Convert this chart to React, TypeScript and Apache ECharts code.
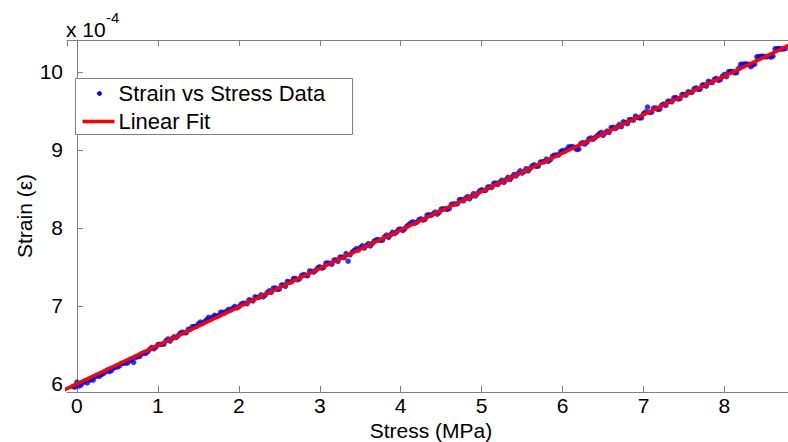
import React, { useEffect, useRef } from "react";
import * as echarts from "echarts";

// Stress (MPa), first pass of readings
const stress = [
  -0.05, 0.0, 0.05, 0.1, 0.15, 0.2, 0.25, 0.3, 0.35, 0.4, 0.45, 0.5, 0.55, 0.6, 0.65, 0.7, 0.75, 0.8, 0.85, 0.9,
  0.95, 1.0, 1.05, 1.1, 1.15, 1.2, 1.25, 1.3, 1.35, 1.4, 1.45, 1.5, 1.55, 1.6, 1.65, 1.7, 1.75, 1.8, 1.85, 1.9,
  1.95, 2.0, 2.05, 2.1, 2.15, 2.2, 2.25, 2.3, 2.35, 2.4, 2.45, 2.5, 2.55, 2.6, 2.65, 2.7, 2.75, 2.8, 2.85, 2.9,
  2.95, 3.0, 3.05, 3.1, 3.15, 3.2, 3.25, 3.3, 3.35, 3.4, 3.45, 3.5, 3.55, 3.6, 3.65, 3.7, 3.75, 3.8, 3.85, 3.9,
  3.95, 4.0, 4.05, 4.1, 4.15, 4.2, 4.25, 4.3, 4.35, 4.4, 4.45, 4.5, 4.55, 4.6, 4.65, 4.7, 4.75, 4.8, 4.85, 4.9,
  4.95, 5.0, 5.05, 5.1, 5.15, 5.2, 5.25, 5.3, 5.35, 5.4, 5.45, 5.5, 5.55, 5.6, 5.65, 5.7, 5.75, 5.8, 5.85, 5.9,
  5.95, 6.0, 6.05, 6.1, 6.15, 6.2, 6.25, 6.3, 6.35, 6.4, 6.45, 6.5, 6.55, 6.6, 6.65, 6.7, 6.75, 6.8, 6.85, 6.9,
  6.95, 7.0, 7.05, 7.1, 7.15, 7.2, 7.25, 7.3, 7.35, 7.4, 7.45, 7.5, 7.55, 7.6, 7.65, 7.7, 7.75, 7.8, 7.85, 7.9,
  7.95, 8.0, 8.05, 8.1, 8.15, 8.2, 8.25, 8.3, 8.35, 8.4, 8.45, 8.5, 8.55, 8.6, 8.65, 8.7, 8.75,
];

// Strain (x 1e-4), first pass
const strain = [
  5.965, 6.02, 5.985, 6.039, 6.044, 6.049, 6.103, 6.118, 6.153, 6.157, 6.202, 6.217, 6.261, 6.266, 6.301, 6.275, 6.35, 6.385, 6.389, 6.444,
  6.449, 6.504, 6.508, 6.553, 6.548, 6.602, 6.617, 6.662, 6.656, 6.701, 6.736, 6.77, 6.775, 6.82, 6.834, 6.879, 6.874, 6.918, 6.933, 6.948,
  6.992, 6.987, 7.032, 7.026, 7.071, 7.116, 7.11, 7.115, 7.17, 7.174, 7.229, 7.214, 7.268, 7.313, 7.308, 7.352, 7.347, 7.402, 7.386, 7.441,
  7.456, 7.501, 7.495, 7.55, 7.535, 7.589, 7.624, 7.619, 7.573, 7.688, 7.733, 7.747, 7.742, 7.797, 7.801, 7.846, 7.841, 7.885, 7.88, 7.945,
  7.949, 7.984, 7.989, 8.043, 8.078, 8.073, 8.117, 8.112, 8.167, 8.181, 8.176, 8.241, 8.245, 8.25, 8.305, 8.309, 8.364, 8.379, 8.373, 8.438,
  8.443, 8.488, 8.482, 8.527, 8.572, 8.556, 8.611, 8.616, 8.62, 8.685, 8.7, 8.704, 8.759, 8.764, 8.808, 8.793, 8.848, 8.882, 8.877, 8.932,
  8.936, 8.991, 9.006, 9.04, 9.025, 9.01, 9.094, 9.099, 9.154, 9.158, 9.203, 9.188, 9.242, 9.287, 9.272, 9.326, 9.361, 9.336, 9.39, 9.435,
  9.41, 9.465, 9.549, 9.484, 9.539, 9.523, 9.588, 9.623, 9.617, 9.672, 9.657, 9.711, 9.746, 9.741, 9.795, 9.78, 9.835, 9.879, 9.864, 9.919,
  9.903, 9.968, 10.003, 10.007, 9.992, 10.097, 10.101, 10.096, 10.091, 10.195, 10.2, 10.195, 10.199, 10.204, 10.299, 10.293, 10.298,
];

// Stress (MPa), second pass of readings
const stressB = [
  -0.025, 0.025, 0.075, 0.125, 0.175, 0.225, 0.275, 0.325, 0.375, 0.425, 0.475, 0.525, 0.575, 0.625, 0.675, 0.725, 0.775, 0.825, 0.875, 0.925,
  0.975, 1.025, 1.075, 1.125, 1.175, 1.225, 1.275, 1.325, 1.375, 1.425, 1.475, 1.525, 1.575, 1.625, 1.675, 1.725, 1.775, 1.825, 1.875, 1.925,
  1.975, 2.025, 2.075, 2.125, 2.175, 2.225, 2.275, 2.325, 2.375, 2.425, 2.475, 2.525, 2.575, 2.625, 2.675, 2.725, 2.775, 2.825, 2.875, 2.925,
  2.975, 3.025, 3.075, 3.125, 3.175, 3.225, 3.275, 3.325, 3.375, 3.425, 3.475, 3.525, 3.575, 3.625, 3.675, 3.725, 3.775, 3.825, 3.875, 3.925,
  3.975, 4.025, 4.075, 4.125, 4.175, 4.225, 4.275, 4.325, 4.375, 4.425, 4.475, 4.525, 4.575, 4.625, 4.675, 4.725, 4.775, 4.825, 4.875, 4.925,
  4.975, 5.025, 5.075, 5.125, 5.175, 5.225, 5.275, 5.325, 5.375, 5.425, 5.475, 5.525, 5.575, 5.625, 5.675, 5.725, 5.775, 5.825, 5.875, 5.925,
  5.975, 6.025, 6.075, 6.125, 6.175, 6.225, 6.275, 6.325, 6.375, 6.425, 6.475, 6.525, 6.575, 6.625, 6.675, 6.725, 6.775, 6.825, 6.875, 6.925,
  6.975, 7.025, 7.075, 7.125, 7.175, 7.225, 7.275, 7.325, 7.375, 7.425, 7.475, 7.525, 7.575, 7.625, 7.675, 7.725, 7.775, 7.825, 7.875, 7.925,
  7.975, 8.025, 8.075, 8.125, 8.175, 8.225, 8.275, 8.325, 8.375, 8.425, 8.475, 8.525, 8.575, 8.625, 8.675, 8.725,
];

// Strain (x 1e-4), second pass
const strainB = [
  5.958, 5.972, 6.017, 6.012, 6.056, 6.091, 6.096, 6.13, 6.175, 6.17, 6.214, 6.229, 6.264, 6.268, 6.303, 6.338, 6.352, 6.397, 6.412, 6.466,
  6.471, 6.506, 6.51, 6.575, 6.58, 6.594, 6.649, 6.654, 6.698, 6.733, 6.738, 6.792, 6.797, 6.852, 6.856, 6.871, 6.916, 6.91, 6.955, 6.97,
  6.974, 7.019, 7.034, 7.078, 7.063, 7.108, 7.142, 7.137, 7.192, 7.226, 7.211, 7.266, 7.25, 7.305, 7.35, 7.334, 7.389, 7.394, 7.448, 7.433,
  7.488, 7.483, 7.547, 7.542, 7.587, 7.571, 7.626, 7.671, 7.655, 7.71, 7.715, 7.769, 7.774, 7.769, 7.833, 7.848, 7.843, 7.907, 7.912, 7.927,
  7.981, 7.966, 8.021, 8.065, 8.06, 8.105, 8.099, 8.164, 8.159, 8.203, 8.198, 8.243, 8.237, 8.302, 8.307, 8.361, 8.346, 8.401, 8.405, 8.41,
  8.475, 8.48, 8.524, 8.519, 8.574, 8.588, 8.583, 8.648, 8.652, 8.667, 8.732, 8.726, 8.731, 8.796, 8.79, 8.845, 8.85, 8.854, 8.919, 8.934,
  8.978, 8.983, 9.038, 9.042, 9.007, 9.082, 9.076, 9.141, 9.136, 9.18, 9.225, 9.22, 9.224, 9.289, 9.294, 9.298, 9.353, 9.388, 9.382, 9.417,
  9.412, 9.487, 9.481, 9.536, 9.521, 9.575, 9.57, 9.625, 9.669, 9.654, 9.709, 9.703, 9.738, 9.783, 9.777, 9.832, 9.817, 9.871, 9.906, 9.891,
  9.945, 9.94, 10.005, 9.989, 10.044, 10.099, 10.103, 10.068, 10.103, 10.197, 10.202, 10.197, 10.191, 10.296, 10.301, 10.295,
];

const fitStress = [-0.2, 8.9];
const fitStrain = [5.901, 10.392];

const X_MIN = -0.123;
const X_MAX = 8.785;
const Y_MIN = 5.895;
const Y_MAX = 10.41;

const FONT = "'Liberation Sans', Arial, sans-serif";
const AXIS_GRAY = "#7f7f7f";

export default function App() {
  const ref = useRef<HTMLDivElement>(null);

  useEffect(() => {
    if (!ref.current) return;
    const chart = echarts.init(ref.current, undefined, { renderer: "svg" });

    const scatterData = stress
      .map((x, i) => [x, strain[i]])
      .concat(stressB.map((x, i) => [x, strainB[i]]));
    const fitData = fitStress.map((x, i) => [x, fitStrain[i]]);

    const axisCommon = {
      type: "value" as const,
      splitLine: { show: false },
      axisLine: { show: true, lineStyle: { color: AXIS_GRAY, width: 1 } },
      axisTick: { show: true, inside: true, length: 6, lineStyle: { color: AXIS_GRAY } },
      minInterval: 1,
      maxInterval: 1,
    };

    chart.setOption({
      animation: false,
      backgroundColor: "#ffffff",
      grid: { left: 67, top: 40, right: -3, bottom: 50, containLabel: false },
      xAxis: [
        {
          ...axisCommon,
          position: "bottom",
          min: X_MIN,
          max: X_MAX,
          splitNumber: 9,
          axisLabel: {
            show: true,
            color: "#000",
            fontSize: 21,
            fontFamily: FONT,
            margin: 3,
            showMinLabel: false,
            showMaxLabel: false,
          },
        },
        {
          ...axisCommon,
          position: "top",
          min: X_MIN,
          max: X_MAX,
          splitNumber: 9,
          axisLabel: { show: false },
        },
      ],
      yAxis: [
        {
          ...axisCommon,
          position: "left",
          min: Y_MIN,
          max: Y_MAX,
          splitNumber: 5,
          axisLabel: {
            show: true,
            color: "#000",
            fontSize: 21,
            fontFamily: FONT,
            margin: 4,
            showMinLabel: false,
            showMaxLabel: false,
          },
        },
      ],
      series: [
        {
          name: "Strain vs Stress Data",
          type: "scatter",
          data: scatterData,
          symbol: "circle",
          symbolSize: 5.5,
          itemStyle: { color: "#0000ee" },
          z: 2,
        },
        {
          name: "Linear Fit",
          type: "line",
          data: fitData,
          showSymbol: false,
          symbol: "none",
          lineStyle: { color: "#ff0000", width: 3.6 },
          z: 3,
        },
      ],
      graphic: [
        {
          type: "text",
          left: 66,
          top: 19,
          style: { text: "x 10", fontSize: 21, fontFamily: FONT, fill: "#000" },
          z: 10,
        },
        {
          type: "text",
          left: 106,
          top: 10,
          style: { text: "-4", fontSize: 15, fontFamily: FONT, fill: "#000" },
          z: 10,
        },
        {
          type: "text",
          x: 431,
          y: 430,
          style: {
            text: "Stress (MPa)",
            fontSize: 21,
            fontFamily: FONT,
            fill: "#000",
            align: "center",
            verticalAlign: "middle",
          },
          z: 10,
        },
        {
          type: "text",
          x: 24,
          y: 216,
          rotation: Math.PI / 2,
          style: {
            text: "Strain (ε)",
            fontSize: 21,
            fontFamily: FONT,
            fill: "#000",
            align: "center",
            verticalAlign: "middle",
          },
          z: 10,
        },
        {
          type: "group",
          left: 75,
          top: 78,
          z: 20,
          children: [
            {
              type: "rect",
              shape: { x: 0, y: 0, width: 277, height: 56 },
              style: { fill: "#ffffff", stroke: AXIS_GRAY, lineWidth: 1 },
              z: 20,
            },
            {
              type: "circle",
              shape: { cx: 24, cy: 15, r: 2.4 },
              style: { fill: "#0000ee" },
              z: 21,
            },
            {
              type: "line",
              shape: { x1: 7, y1: 43, x2: 39, y2: 43 },
              style: { stroke: "#ff0000", lineWidth: 3.5 },
              z: 21,
            },
            {
              type: "text",
              x: 43,
              y: 15,
              style: {
                text: "Strain vs Stress Data",
                fontSize: 22,
                fontFamily: FONT,
                fill: "#000",
                verticalAlign: "middle",
              },
              z: 21,
            },
            {
              type: "text",
              x: 43,
              y: 43,
              style: {
                text: "Linear Fit",
                fontSize: 22,
                fontFamily: FONT,
                fill: "#000",
                verticalAlign: "middle",
              },
              z: 21,
            },
          ],
        },
      ],
    });

    return () => chart.dispose();
  }, []);

  return (
    <div
      ref={ref}
      style={{ position: "fixed", left: 0, top: 0, width: 788, height: 442, background: "#fff" }}
    />
  );
}
